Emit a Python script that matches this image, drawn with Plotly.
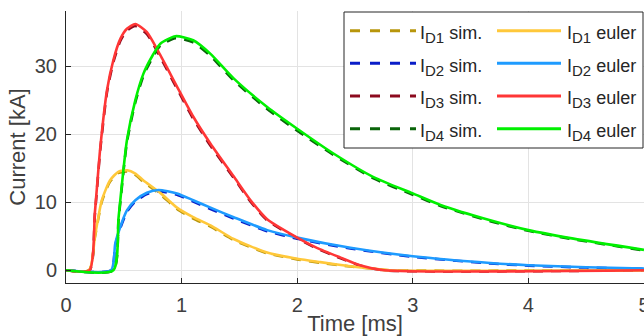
import plotly.graph_objects as go

# ---------------- data ----------------
t_d1 = [0, 0.2, 0.25, 0.27, 0.31, 0.38, 0.455, 0.53, 0.6, 0.67, 0.82, 0.96, 1.1, 1.25, 1.45, 1.74, 2.0, 2.2, 2.46, 2.66, 2.8, 5.0]
i_d1_euler = [0, 0, 5.0, 6.9, 10.3, 13.2, 14.5, 14.7, 14.2, 13.2, 11.3, 9.2, 7.8, 6.6, 4.6, 2.6, 1.7, 1.2, 0.6, 0.25, 0, 0]
i_d1_sim = [0, 0, 4.8, 6.7, 10.1, 13.0, 14.3, 14.5, 14.0, 13.0, 11.1, 9.0, 7.6, 6.4, 4.45, 2.5, 1.6, 1.1, 0.55, 0.2, 0, 0]

t_d2 = [0, 0.39, 0.426, 0.47, 0.527, 0.6, 0.7, 0.8, 0.96, 1.1, 1.25, 1.45, 1.74, 2.0, 2.46, 3.0, 3.67, 4.0, 4.5, 5.0]
i_d2_euler = [0, 0, 3.9, 6.4, 8.8, 10.3, 11.4, 11.8, 11.3, 10.3, 9.2, 7.8, 5.9, 4.8, 3.3, 2.06, 1.07, 0.74, 0.45, 0.25]
i_d2_sim = [0, 0, 3.7, 6.2, 8.6, 10.1, 11.2, 11.6, 11.1, 10.1, 9.0, 7.6, 5.75, 4.65, 3.2, 1.98, 1.0, 0.68, 0.4, 0.22]

t_d3 = [0, 0.204, 0.25, 0.297, 0.355, 0.41, 0.47, 0.527, 0.6, 0.7, 0.816, 0.96, 1.1, 1.25, 1.45, 1.6, 1.74, 2.0, 2.17, 2.37, 2.55, 2.75, 5.0]
i_d3_euler = [0, 0, 8.5, 18.1, 26.5, 30.9, 34.0, 35.5, 36.2, 35.0, 31.6, 27.0, 22.6, 18.6, 13.8, 10.2, 7.5, 4.8, 3.3, 1.9, 0.7, 0, 0]
i_d3_sim = [0, 0, 8.2, 17.8, 26.2, 30.6, 33.7, 35.2, 35.9, 34.7, 31.3, 26.7, 22.3, 18.3, 13.6, 10.0, 7.35, 4.7, 3.2, 1.8, 0.65, 0, 0]

t_d4 = [0, 0.41, 0.455, 0.527, 0.6, 0.67, 0.75, 0.816, 0.946, 1.1, 1.25, 1.45, 1.74, 2.0, 2.31, 2.66, 3.0, 3.24, 3.67, 4.0, 4.39, 5.0]
i_d4_euler = [0, 0, 7.8, 19.1, 25.0, 28.9, 31.6, 33.3, 34.4, 33.8, 31.8, 28.2, 24.0, 20.8, 17.2, 13.7, 11.3, 9.6, 7.35, 5.9, 4.65, 3.0]
i_d4_sim = [0, 0, 7.5, 18.8, 24.7, 28.6, 31.3, 33.0, 34.1, 33.5, 31.5, 27.9, 23.7, 20.5, 17.0, 13.5, 11.1, 9.45, 7.2, 5.8, 4.55, 2.92]

names_sim = ["I<sub><span style='font-size:15px'>D1</span></sub> sim.",
             "I<sub><span style='font-size:15px'>D2</span></sub> sim.",
             "I<sub><span style='font-size:15px'>D3</span></sub> sim.",
             "I<sub><span style='font-size:15px'>D4</span></sub> sim."]
names_euler = ["I<sub><span style='font-size:15px'>D1</span></sub> euler",
               "I<sub><span style='font-size:15px'>D2</span></sub> euler",
               "I<sub><span style='font-size:15px'>D3</span></sub> euler",
               "I<sub><span style='font-size:15px'>D4</span></sub> euler"]
colors_sim = ["#B8960C", "#0A1EC8", "#8C0A1E", "#0A640A"]
colors_euler = ["#FFC83A", "#1E9BFF", "#FF3636", "#00F000"]

x_ticks = [0, 1, 2, 3, 4, 5]
y_ticks = [0, 10, 20, 30]

# ---------------- figure ----------------
W, H = 644, 336
ML, MR, MT, MB = 66, 0, 11, 53
PW, PH = W - ML - MR, H - MT - MB

def xp(px):
    return (px - ML) / PW

def yp(py):
    return (H - MB - py) / PH

fig = go.Figure()
times = [t_d1, t_d2, t_d3, t_d4]
sims = [i_d1_sim, i_d2_sim, i_d3_sim, i_d4_sim]
eulers = [i_d1_euler, i_d2_euler, i_d3_euler, i_d4_euler]

for t, v, c, n in zip(times, sims, colors_sim, names_sim):
    fig.add_trace(go.Scatter(x=t, y=v, mode="lines", name=n, showlegend=False,
                             line=dict(color=c, width=2.6, dash="10px,8px", shape="spline", smoothing=0.6)))
for t, v, c, n in zip(times, eulers, colors_euler, names_euler):
    fig.add_trace(go.Scatter(x=t, y=v, mode="lines", name=n, showlegend=False,
                             line=dict(color=c, width=2.6, shape="spline", smoothing=0.6)))

font_fam = "Liberation Sans, Arial, Helvetica, sans-serif"
axis_common = dict(
    ticks="inside", ticklen=5, tickcolor="#262626", tickwidth=1,
    showline=True, linecolor="#262626", linewidth=1, mirror=False,
    showgrid=True, gridcolor="#E3E3E3", gridwidth=1, zeroline=False,
    tickfont=dict(size=20, color="#404040", family=font_fam),
    ticklabeloverflow="allow",
)
fig.update_xaxes(range=[0, 5], tickvals=x_ticks, ticktext=[str(v) for v in x_ticks],
                 title=dict(text="Time [ms]", font=dict(size=22, color="#404040", family=font_fam), standoff=0),
                 ticklabelstandoff=4, **axis_common)
fig.update_yaxes(range=[-1.87, 38.1], tickvals=y_ticks, ticktext=[str(v) for v in y_ticks],
                 title=dict(text="Current [kA]", font=dict(size=22, color="#404040", family=font_fam), standoff=3),
                 ticklabelstandoff=4, **axis_common)

# ---------------- manual legend ----------------
shapes = [dict(type="rect", xref="paper", yref="paper", x0=xp(344), x1=xp(643), y0=yp(148), y1=yp(12),
               line=dict(color="#262626", width=1), fillcolor="white", layer="above")]
annotations = []
row_y = [30.7, 63.3, 96.0, 128.7]
for k in range(4):
    y = yp(row_y[k])
    shapes.append(dict(type="line", xref="paper", yref="paper", x0=xp(350), x1=xp(416), y0=y, y1=y,
                       line=dict(color=colors_sim[k], width=3, dash="10px,10px"), layer="above"))
    shapes.append(dict(type="line", xref="paper", yref="paper", x0=xp(497), x1=xp(561), y0=y, y1=y,
                       line=dict(color=colors_euler[k], width=3), layer="above"))
    for xx, txt in ((418, names_sim[k]), (565, names_euler[k])):
        annotations.append(dict(xref="paper", yref="paper", x=xp(xx), y=yp(row_y[k] + 4), text=txt,
                                showarrow=False, xanchor="left", yanchor="middle",
                                font=dict(size=18, color="#262626", family=font_fam)))

fig.update_layout(
    width=W, height=H, margin=dict(l=ML, r=MR, t=MT, b=MB, autoexpand=False),
    paper_bgcolor="white", plot_bgcolor="white",
    font=dict(family=font_fam), shapes=shapes, annotations=annotations, showlegend=False,
)

fig.write_html("out.html", config={"displayModeBar": False},
               post_script="document.body.style.margin='0px';document.body.style.overflow='hidden';")
